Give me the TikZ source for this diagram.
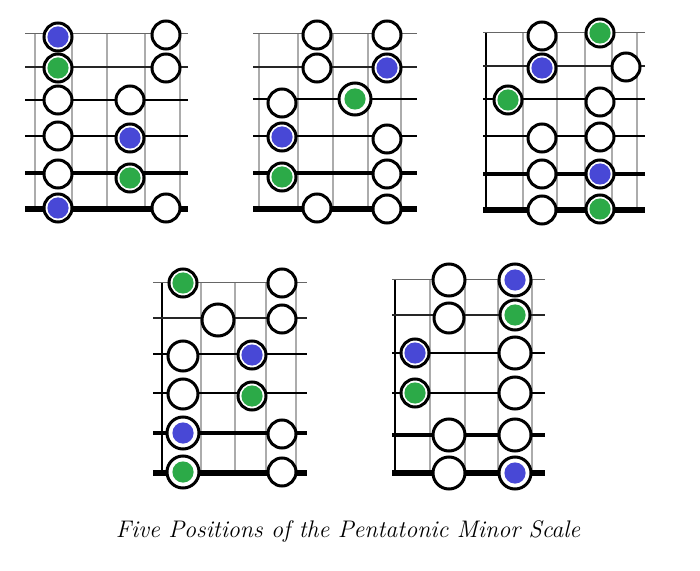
\documentclass[tikz,border=0pt]{standalone}
\usepackage{tikz}

\definecolor{noteblue}{RGB}{72,72,214}
\definecolor{notegreen}{RGB}{44,170,72}

\begin{document}
\begin{tikzpicture}[x=0.5pt,y=-0.5pt,
  fret/.style={draw=gray!65, line width=0.6pt},
  nut/.style={draw=black, line width=1pt},
  str1/.style={draw=black!60, line width=0.5pt},
  str2/.style={draw=black!85, line width=0.7pt},
  str3/.style={draw=black, line width=1pt},
  str5/.style={draw=black, line width=2pt},
  str6/.style={draw=black, line width=3pt},
  open/.style={fill=white, draw=black, line width=1.5pt},
  bluenote/.style={open, path picture={\fill[noteblue] (path picture bounding box.center) circle (5.3pt);}},
  greennote/.style={open, path picture={\fill[notegreen] (path picture bounding box.center) circle (5.3pt);}}]
\useasboundingbox (0,0) rectangle (700,571);

% first position
\draw[fret] (35,34) -- (35,209);
\draw[fret] (72,34) -- (72,209);
\draw[fret] (107,34) -- (107,209);
\draw[fret] (145,34) -- (145,209);
\draw[fret] (180,34) -- (180,209);
\draw[str1] (25,34) -- (188,34);
\draw[str2] (25,67) -- (188,67);
\draw[str3] (25,100) -- (188,100);
\draw[str3] (25,136) -- (188,136);
\draw[str5] (25,173) -- (188,173);
\draw[str6] (25,209) -- (188,209);
\filldraw[bluenote]  (58,37) circle (7pt);
\filldraw[greennote] (58,68) circle (7pt);
\filldraw[open]      (58,100) circle (7pt);
\filldraw[open]      (58,136) circle (7pt);
\filldraw[open]      (58,174) circle (7pt);
\filldraw[bluenote]  (58,208) circle (7pt);
\filldraw[open]      (130,100) circle (7pt);
\filldraw[bluenote]  (130,138) circle (7pt);
\filldraw[greennote] (130,178) circle (7pt);
\filldraw[open]      (166,35) circle (7pt);
\filldraw[open]      (166,68) circle (7pt);
\filldraw[open]      (166,208) circle (7pt);

% second position
\draw[fret] (259,34) -- (259,209);
\draw[fret] (298,34) -- (298,209);
\draw[fret] (333,34) -- (333,209);
\draw[fret] (368,34) -- (368,209);
\draw[fret] (401,34) -- (401,209);
\draw[str1] (253,34) -- (417,34);
\draw[str2] (253,67) -- (417,67);
\draw[str3] (253,99) -- (417,99);
\draw[str3] (253,136) -- (417,136);
\draw[str5] (253,173) -- (417,173);
\draw[str6] (253,209) -- (417,209);
\filldraw[open]      (282,103) circle (7pt);
\filldraw[bluenote]  (282,137) circle (7pt);
\filldraw[greennote] (282,177) circle (7pt);
\filldraw[open]      (317,35) circle (7pt);
\filldraw[open]      (317,68) circle (7pt);
\filldraw[open]      (317,208) circle (7pt);
\filldraw[greennote] (355,99) circle (8pt);
\filldraw[open]      (387,35) circle (7pt);
\filldraw[bluenote]  (387,68) circle (7pt);
\filldraw[open]      (387,139) circle (7pt);
\filldraw[open]      (387,174) circle (7pt);
\filldraw[open]      (387,209) circle (7pt);

% third position
\draw[nut]  (486,33) -- (486,210);
\draw[fret] (523,33) -- (523,210);
\draw[fret] (557,33) -- (557,210);
\draw[fret] (585,33) -- (585,210);
\draw[fret] (612,33) -- (612,210);
\draw[fret] (637,33) -- (637,210);
\draw[str1] (483,33) -- (645,33);
\draw[str2] (483,66) -- (645,66);
\draw[str3] (483,99) -- (645,99);
\draw[str3] (483,136) -- (645,136);
\draw[str5] (483,174) -- (645,174);
\draw[str6] (483,210) -- (645,210);
\filldraw[greennote] (508,100) circle (7pt);
\filldraw[open]      (542,36) circle (7pt);
\filldraw[bluenote]  (542,68) circle (7pt);
\filldraw[open]      (542,138) circle (7pt);
\filldraw[open]      (542,174) circle (7pt);
\filldraw[open]      (542,210) circle (7pt);
\filldraw[greennote] (600,33) circle (7pt);
\filldraw[open]      (600,102) circle (7pt);
\filldraw[open]      (600,137) circle (7pt);
\filldraw[bluenote]  (600,174) circle (7pt);
\filldraw[greennote] (600,209) circle (7pt);
\filldraw[open]      (626,67) circle (7pt);

% fourth position
\draw[nut]  (162,283) -- (162,473);
\draw[fret] (201,283) -- (201,473);
\draw[fret] (235,283) -- (235,473);
\draw[fret] (266,283) -- (266,473);
\draw[fret] (296,283) -- (296,473);
\draw[str1] (153,283) -- (307,283);
\draw[str2] (153,318) -- (307,318);
\draw[str3] (153,354) -- (307,354);
\draw[str3] (153,393) -- (307,393);
\draw[str5] (153,433) -- (307,433);
\draw[str6] (153,473) -- (307,473);
\filldraw[greennote] (183,283) circle (7pt);
\filldraw[open]      (183,356) circle (7.5pt);
\filldraw[open]      (183,394) circle (7.5pt);
\filldraw[bluenote]  (183,433) circle (8pt);
\filldraw[greennote] (183,472) circle (8pt);
\filldraw[open]      (218,320) circle (8pt);
\filldraw[bluenote]  (252,355) circle (7pt);
\filldraw[greennote] (252,396) circle (7pt);
\filldraw[open]      (282,283) circle (7pt);
\filldraw[open]      (282,319) circle (7pt);
\filldraw[open]      (282,434) circle (7pt);
\filldraw[open]      (282,472) circle (7pt);

% fifth position
\draw[nut]  (395,280) -- (395,473);
\draw[fret] (430,280) -- (430,473);
\draw[fret] (465,280) -- (465,473);
\draw[fret] (498,280) -- (498,473);
\draw[fret] (532,280) -- (532,473);
\draw[str1] (392,280) -- (545,280);
\draw[str2] (392,315) -- (545,315);
\draw[str3] (392,353) -- (545,353);
\draw[str3] (392,393) -- (545,393);
\draw[str5] (392,435) -- (545,435);
\draw[str6] (392,473) -- (545,473);
\filldraw[bluenote]  (415,353) circle (7pt);
\filldraw[greennote] (415,393) circle (7pt);
\filldraw[open]      (449,280) circle (8pt);
\filldraw[open]      (449,318) circle (7.5pt);
\filldraw[open]      (449,435) circle (8pt);
\filldraw[open]      (449,473) circle (8pt);
\filldraw[bluenote]  (515,280) circle (8pt);
\filldraw[greennote] (515,315) circle (7.5pt);
\filldraw[open]      (515,353) circle (8pt);
\filldraw[open]      (515,393) circle (8pt);
\filldraw[open]      (515,435) circle (8pt);
\filldraw[bluenote]  (515,473) circle (8pt);

\node[font=\fontsize{12}{14}\selectfont\itshape] (title) at (348,531)
  {Five Positions of the Pentatonic Minor Scale};
\end{tikzpicture}
\end{document}
